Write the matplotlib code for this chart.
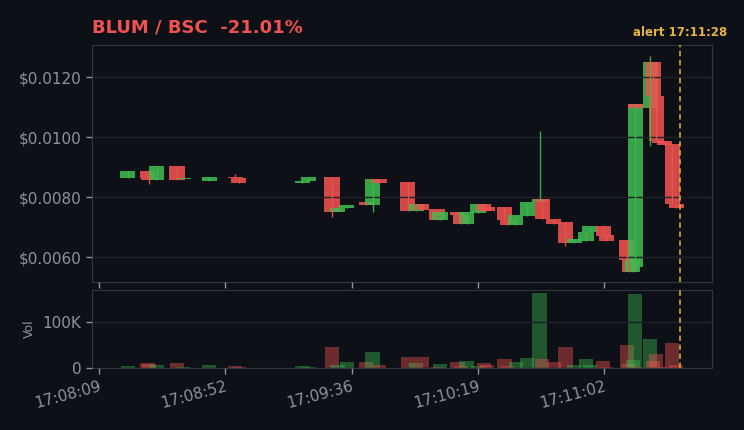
import matplotlib
matplotlib.use("Agg")
import matplotlib.pyplot as plt
from matplotlib.ticker import FuncFormatter
import numpy as np

BG = "#0d1117"
GREEN = "#3fb950"
RED = "#f0524f"
GOLD = "#e3b341"
TXT = "#8b949e"
SPINE = "#30363d"

# seconds after 17:08:09, open, high, low, close, volume
t = [9.8, 16.6, 17.1, 19.7, 26.7, 28.8, 37.8, 46.7, 47.8, 69.7, 71.7, 75.7,
     79.8, 81.7, 84.8, 91.6, 93.7, 95.9, 105.8, 108.7, 110.6, 115.8, 116.8,
     122.8, 124.0, 125.9, 129.8, 131.8, 132.9, 138.9, 139.9, 142.8, 146.7,
     150.9, 151.9, 155.8, 159.8, 162.8, 166.8, 168.2, 172.8, 173.8, 180.8,
     181.7, 182.9, 183.7, 183.9, 188.9, 189.9, 190.9, 191.9, 193.8, 196.4,
     197.7]
o = [0.00864, 0.00887, 0.00864, 0.00857, 0.00904, 0.00860, 0.00853, 0.00867,
     0.00863, 0.00847, 0.00853, 0.00867, 0.00867, 0.00750, 0.00763, 0.00783,
     0.00773, 0.00860, 0.00850, 0.00753, 0.00777, 0.00760, 0.00723, 0.00750,
     0.00740, 0.00710, 0.00747, 0.00777, 0.00767, 0.00767, 0.00723, 0.00707,
     0.00737, 0.00783, 0.00793, 0.00727, 0.00717, 0.00647, 0.00653, 0.00683,
     0.00703, 0.00673, 0.00657, 0.00590, 0.00550, 0.00567, 0.01110, 0.01097,
     0.01250, 0.01137, 0.00987, 0.00987, 0.00977, 0.00777]
h = [0.00887, 0.00887, 0.00870, 0.00904, 0.00904, 0.00863, 0.00867, 0.00877,
     0.00863, 0.00853, 0.00867, 0.00867, 0.00867, 0.00750, 0.00773, 0.00783,
     0.00860, 0.00860, 0.00850, 0.00777, 0.00777, 0.00760, 0.00750, 0.00750,
     0.00740, 0.00750, 0.00777, 0.00777, 0.00767, 0.00767, 0.00723, 0.00740,
     0.00783, 0.01020, 0.00793, 0.00727, 0.00717, 0.00660, 0.00683, 0.00703,
     0.00703, 0.00673, 0.00657, 0.00590, 0.00590, 0.01110, 0.01110, 0.01270,
     0.01250, 0.01137, 0.00987, 0.00987, 0.00977, 0.00777]
l = [0.00864, 0.00864, 0.00843, 0.00857, 0.00857, 0.00860, 0.00853, 0.00863,
     0.00847, 0.00847, 0.00853, 0.00867, 0.00733, 0.00750, 0.00763, 0.00773,
     0.00750, 0.00847, 0.00753, 0.00753, 0.00757, 0.00723, 0.00723, 0.00740,
     0.00710, 0.00710, 0.00747, 0.00753, 0.00753, 0.00723, 0.00707, 0.00707,
     0.00737, 0.00783, 0.00727, 0.00710, 0.00637, 0.00647, 0.00653, 0.00683,
     0.00670, 0.00653, 0.00590, 0.00550, 0.00550, 0.00567, 0.01097, 0.00970,
     0.01137, 0.00987, 0.00980, 0.00973, 0.00777, 0.00763]
c = [0.00887, 0.00864, 0.00857, 0.00904, 0.00857, 0.00863, 0.00867, 0.00863,
     0.00847, 0.00853, 0.00867, 0.00867, 0.00750, 0.00763, 0.00773, 0.00773,
     0.00860, 0.00847, 0.00753, 0.00777, 0.00757, 0.00723, 0.00750, 0.00740,
     0.00710, 0.00750, 0.00777, 0.00753, 0.00753, 0.00723, 0.00707, 0.00740,
     0.00783, 0.00793, 0.00727, 0.00710, 0.00647, 0.00660, 0.00683, 0.00703,
     0.00670, 0.00653, 0.00590, 0.00550, 0.00590, 0.01110, 0.01097, 0.01250,
     0.01137, 0.00987, 0.00980, 0.00973, 0.00777, 0.00763]
v = [5000, 11000, 8000, 7000, 11000, 2000, 7000, 4000, 2000, 4000, 2000, 500,
     46000, 6000, 13000, 13000, 35000, 6000, 24000, 11000, 24000, 3000, 9000,
     13000, 5000, 15000, 4000, 11000, 6000, 20000, 4000, 13000, 22000, 163000,
     20000, 13000, 46000, 6000, 20000, 6000, 15000, 3000, 50000, 8000, 17000,
     161000, 3000, 63000, 15000, 30000, 3000, 2000, 54000, 6000]

tick_labels = ["17:08:09", "17:08:52", "17:09:36", "17:10:19", "17:11:02"]
tick_pos = [0, 43.25, 86.5, 129.75, 173]
alert_t = 199
title = "BLUM / BSC  -21.01%"
alert_label = "alert 17:11:28"

plt.rcParams["font.family"] = ["DejaVu Sans"]
fig = plt.figure(figsize=(7.44, 4.30), dpi=100, facecolor=BG)
ax = fig.add_axes([0.1237, 0.3442, 0.8333, 0.5511])
axv = fig.add_axes([0.1237, 0.1442, 0.8333, 0.1814], sharex=ax)

w = 5.2
for i in range(len(t)):
    col = GREEN if c[i] >= o[i] else RED
    lo, hi = min(o[i], c[i]), max(o[i], c[i])
    ax.bar(t[i], max(hi - lo, 0.00001), w, bottom=lo, color=col, alpha=0.88,
           linewidth=0, zorder=2)
    ax.vlines(t[i], l[i], h[i], color=col, linewidth=1, alpha=0.9, zorder=3)
    axv.bar(t[i], v[i], w * 0.93, color=col, alpha=0.42, linewidth=0, zorder=2)

for a in (ax, axv):
    a.set_facecolor(BG)
    for s in a.spines.values():
        s.set_color(SPINE)
    a.tick_params(colors=TXT, labelsize=11, length=4, width=1)
    a.grid(axis="y", color="#1e232a", linewidth=1, zorder=4)
    a.set_axisbelow(False)
    a.axvline(alert_t, color=GOLD, linestyle=(0, (3, 2)), linewidth=1.3, alpha=0.85, zorder=5)

ax.set_xlim(-2.4, 210)
ax.set_ylim(0.005167, 0.01307)
ax.set_yticks([0.006, 0.008, 0.010, 0.012])
ax.yaxis.set_major_formatter(FuncFormatter(lambda x, p: f"${x:.4f}"))
ax.tick_params(axis="x", labelbottom=False)

axv.set_ylim(0, 169600)
axv.set_yticks([0, 100000])
axv.yaxis.set_major_formatter(FuncFormatter(lambda x, p: "0" if x == 0 else f"{x/1000:.0f}K"))
axv.set_ylabel("Vol", color=TXT, fontsize=9, labelpad=5)
axv.set_xticks(tick_pos)
axv.set_xticklabels(tick_labels, rotation=15, ha="right", rotation_mode="anchor")

fig.text(0.1237, 0.935, title, color=RED, fontsize=13, fontweight="bold", va="center")
ax.text(alert_t, 1.025, alert_label, transform=ax.get_xaxis_transform(),
        color=GOLD, fontsize=8.5, fontweight="bold", ha="center", va="bottom")

fig.savefig("out.png", dpi=100, facecolor=BG)
